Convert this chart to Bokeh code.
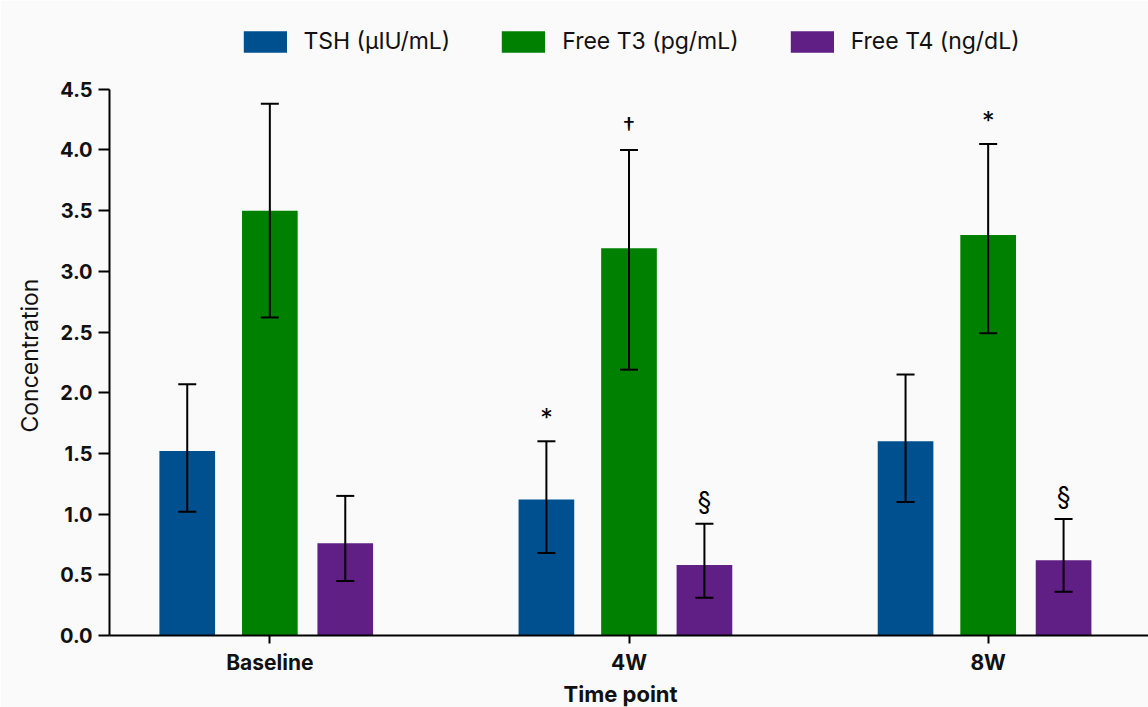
from bokeh.plotting import figure
from bokeh.models import (ColumnDataSource, FactorRange, Range1d, Whisker, TeeHead,
                          Legend, LegendItem, FixedTicker, PrintfTickFormatter, Title)
from bokeh.transform import dodge
from bokeh.core.properties import value
from bokeh.embed import file_html
from bokeh.resources import INLINE

# ---- data ----
categories = ["Baseline", "4W", "8W"]
series_names = ["TSH (μIU/mL)", "Free T3 (pg/mL)", "Free T4 (ng/dL)"]

tsh = [1.52, 1.12, 1.60]
tsh_lo = [1.02, 0.68, 1.10]
tsh_hi = [2.07, 1.60, 2.15]
tsh_mark = ["", "*", ""]

t3 = [3.50, 3.19, 3.30]
t3_lo = [2.62, 2.19, 2.49]
t3_hi = [4.38, 4.00, 4.05]
t3_mark = ["", "†", "*"]

t4 = [0.76, 0.58, 0.62]
t4_lo = [0.45, 0.31, 0.36]
t4_hi = [1.15, 0.92, 0.96]
t4_mark = ["", "§", "§"]

y_ticks = [0.0, 0.5, 1.0, 1.5, 2.0, 2.5, 3.0, 3.5, 4.0, 4.5]

colors = ["#00508f", "#008000", "#5f1f84"]
offsets = [-0.23, 0.0, 0.21]
BAR_W = 0.155
FONT = "Inter"
BG = "#fafafa"
INK = "#111111"

p = figure(width=1148, height=707, output_backend="svg", toolbar_location=None,
           x_range=FactorRange(factors=categories, range_padding=-0.0357),
           y_range=Range1d(0, 5.19),
           min_border_left=105, min_border_right=0, min_border_top=5, min_border_bottom=60,
           background_fill_color=BG, border_fill_color=BG)
p.outline_line_color = None
p.xgrid.visible = False
p.ygrid.visible = False

data = [(tsh, tsh_lo, tsh_hi, tsh_mark), (t3, t3_lo, t3_hi, t3_mark), (t4, t4_lo, t4_hi, t4_mark)]
items = []
for (vals, lo, hi, marks), name, col, off in zip(data, series_names, colors, offsets):
    src = ColumnDataSource(dict(cat=categories, v=vals, lo=lo, hi=hi, mark=marks))
    r = p.vbar(x=dodge("cat", off, range=p.x_range), top="v", width=BAR_W, source=src,
               fill_color=col, line_color=None)
    items.append(LegendItem(label=name, renderers=[r]))
    w = Whisker(base=dodge("cat", off, range=p.x_range), upper="hi", lower="lo", source=src,
                level="overlay", line_color="black", line_width=2,
                upper_head=TeeHead(size=18, line_width=2, line_color="black"),
                lower_head=TeeHead(size=18, line_width=2, line_color="black"))
    p.add_layout(w)
    p.text(x=dodge("cat", off, range=p.x_range), y="hi", text="mark", source=src,
           text_align="center", text_baseline="bottom", y_offset=-8,
           text_font=value(FONT), text_font_size="25px", text_color="black")

legend = Legend(items=items, location="top_center", orientation="horizontal",
                glyph_width=54, glyph_height=27, label_standoff=12, spacing=46,
                padding=6, margin=16, background_fill_alpha=0, border_line_alpha=0,
                label_text_font=FONT, label_text_font_size="23px", label_text_color=INK)
p.add_layout(legend)

# y axis
ya = p.yaxis[0]
ya.bounds = (0, 4.5)
ya.ticker = FixedTicker(ticks=y_ticks)
ya.formatter = PrintfTickFormatter(format="%.1f")
ya.major_label_text_font = FONT
ya.major_label_text_font_style = "bold"
ya.major_label_text_font_size = "20px"
ya.major_label_text_color = INK
ya.major_label_standoff = 6
ya.major_tick_out = 11
ya.major_tick_in = 0
ya.minor_tick_out = 0
ya.minor_tick_in = 0
ya.axis_line_width = 2
ya.major_tick_line_width = 2

# y axis title, placed along the 0-4.5 span of the axis
p.add_layout(Title(text="Concentration", align="left", offset=203, standoff=27,
                   text_font=FONT, text_font_size="23px", text_font_style="normal",
                   text_color=INK), "left")

# x axis
xa = p.xaxis[0]
xa.major_label_text_font = FONT
xa.major_label_text_font_style = "bold"
xa.major_label_text_font_size = "21px"
xa.major_label_text_color = INK
xa.major_label_standoff = 6
xa.major_tick_out = 8
xa.major_tick_in = 0
xa.axis_line_width = 2
xa.major_tick_line_width = 2

# x axis title
p.add_layout(Title(text="Time point", align="left", offset=454, standoff=2,
                   text_font=FONT, text_font_size="22px", text_font_style="bold",
                   text_color=INK), "below")

open("out.html", "w").write(file_html(p, INLINE))
